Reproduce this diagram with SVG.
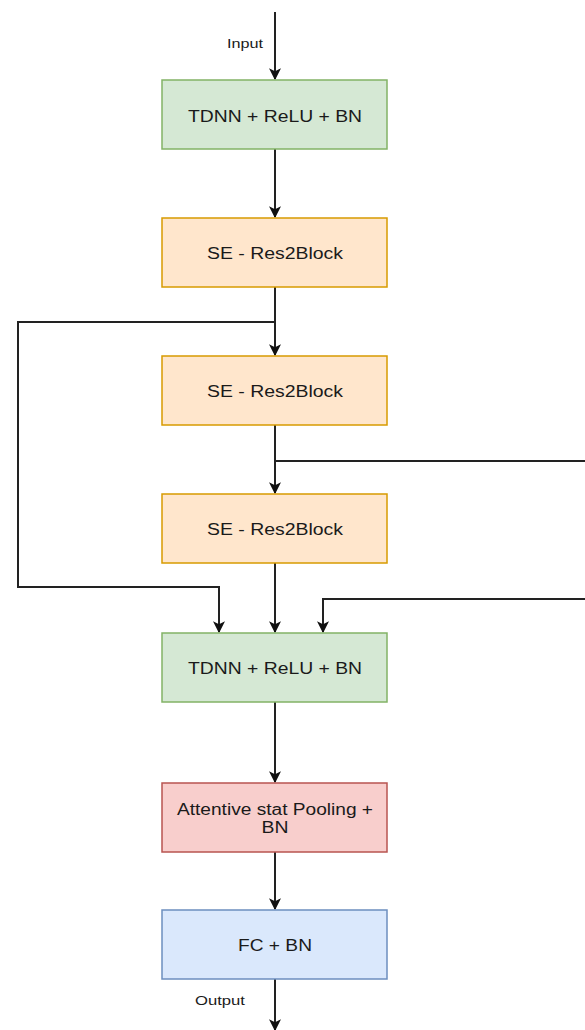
<svg xmlns="http://www.w3.org/2000/svg" width="585" height="1030" viewBox="0 0 585 1030">
<style>
.lbl{font-family:"Liberation Sans",Arial,sans-serif;font-size:16px;fill:#1a1a1a;text-anchor:middle;dominant-baseline:central}
.small{font-family:"Liberation Sans",Arial,sans-serif;font-size:13px;fill:#1a1a1a;text-anchor:middle;dominant-baseline:central}
.conn{fill:none;stroke:#222;stroke-width:2}
.g{fill:#d5e8d4;stroke:#82b366;stroke-width:1.5}
.o{fill:#ffe6cc;stroke:#d79b00;stroke-width:1.5}
.r{fill:#f8cecc;stroke:#b85450;stroke-width:1.5}
.b{fill:#dae8fc;stroke:#6c8ebf;stroke-width:1.5}
</style>
<defs>
<marker id="arr" viewBox="0 0 10 10" refX="9" refY="5" markerWidth="6" markerHeight="6" markerUnits="strokeWidth" orient="auto">
<path d="M0,0 L10,5 L0,10 L2.5,5 z" fill="#111"/>
</marker>
</defs>
<g id="connectors">
<path class="conn" d="M275,12 V79" marker-end="url(#arr)"/>
<path class="conn" d="M275,149 V217" marker-end="url(#arr)"/>
<path class="conn" d="M275,287 V355" marker-end="url(#arr)"/>
<path class="conn" d="M275,425 V493" marker-end="url(#arr)"/>
<path class="conn" d="M275,563 V632" marker-end="url(#arr)"/>
<path class="conn" d="M275,322 H18 V587 H219 V632" marker-end="url(#arr)"/>
<path class="conn" d="M275,461 H590"/>
<path class="conn" d="M590,599 H323 V632" marker-end="url(#arr)"/>
<path class="conn" d="M275,702 V782" marker-end="url(#arr)"/>
<path class="conn" d="M275,852 V909" marker-end="url(#arr)"/>
<path class="conn" d="M275,979 V1030" marker-end="url(#arr)"/>
<text class="small" x="245" y="43" textLength="36" lengthAdjust="spacingAndGlyphs">Input</text>
<text class="small" x="220" y="1000" textLength="50" lengthAdjust="spacingAndGlyphs">Output</text>
</g>
<g id="n1"><rect class="g" x="162" y="80" width="225" height="69"/><text class="lbl" x="275" y="116" textLength="174" lengthAdjust="spacingAndGlyphs">TDNN + ReLU + BN</text></g>
<g id="n2"><rect class="o" x="162" y="218" width="225" height="69"/><text class="lbl" x="275" y="253" textLength="136" lengthAdjust="spacingAndGlyphs">SE - Res2Block</text></g>
<g id="n3"><rect class="o" x="162" y="356" width="225" height="69"/><text class="lbl" x="275" y="391" textLength="136" lengthAdjust="spacingAndGlyphs">SE - Res2Block</text></g>
<g id="n4"><rect class="o" x="162" y="494" width="225" height="69"/><text class="lbl" x="275" y="529" textLength="136" lengthAdjust="spacingAndGlyphs">SE - Res2Block</text></g>
<g id="n5"><rect class="g" x="162" y="633" width="225" height="69"/><text class="lbl" x="275" y="668" textLength="174" lengthAdjust="spacingAndGlyphs">TDNN + ReLU + BN</text></g>
<g id="n6"><rect class="r" x="162" y="783" width="225" height="69"/><text class="lbl" x="275" y="809" textLength="196" lengthAdjust="spacingAndGlyphs">Attentive stat Pooling +</text><text class="lbl" x="275" y="827" textLength="27" lengthAdjust="spacingAndGlyphs">BN</text></g>
<g id="n7"><rect class="b" x="162" y="910" width="225" height="69"/><text class="lbl" x="275" y="945" textLength="74" lengthAdjust="spacingAndGlyphs">FC + BN</text></g>
</svg>
